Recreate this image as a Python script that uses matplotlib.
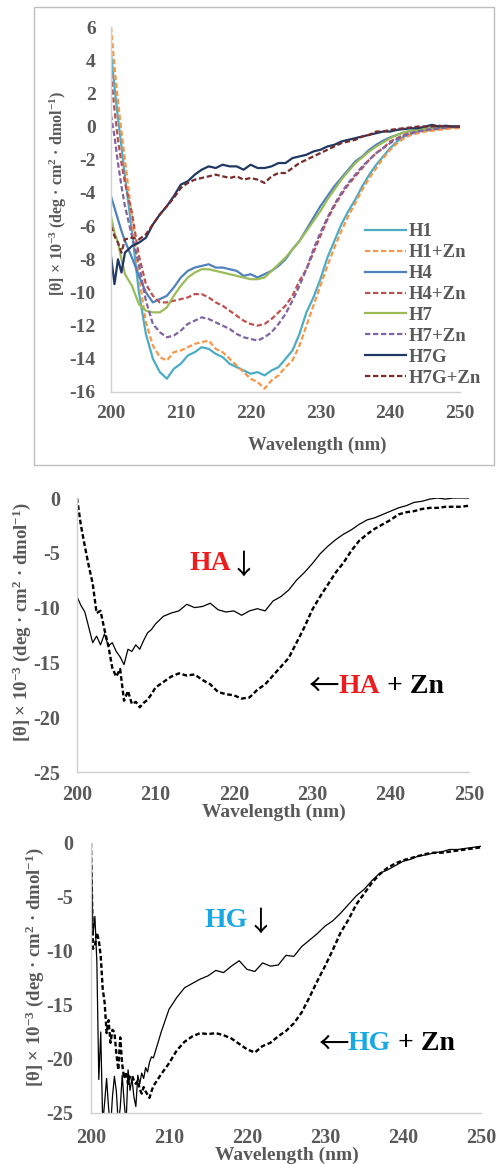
import numpy as np
import matplotlib
matplotlib.use("Agg")
import matplotlib.pyplot as plt
from matplotlib.patches import Rectangle

plt.rcParams['font.family'] = ['Liberation Serif', 'DejaVu Serif']
plt.rcParams['axes.unicode_minus'] = False
plt.rcParams['mathtext.fontset'] = 'custom'
plt.rcParams['mathtext.rm'] = 'Liberation Serif:bold'
plt.rcParams['mathtext.bf'] = 'Liberation Serif:bold'
plt.rcParams['mathtext.it'] = 'Liberation Serif:bold'

# ---------------- data: top panel ----------------
wl_top = [200, 200.5, 201, 201.5, 202] + list(range(203, 251))
series_top = ['H1', 'H1+Zn', 'H4', 'H4+Zn', 'H7', 'H7+Zn', 'H7G', 'H7G+Zn']

H1 = [4.4, 2.4, 0.5, -1.2, -3.0, -6.3, -10.0, -12.5, -14.0, -14.8, -15.2, -14.6, -14.3, -13.8,
      -13.6, -13.3, -13.4, -13.7, -13.9, -14.3, -14.5, -14.7, -14.9, -14.8, -15.0, -14.7, -14.5,
      -14.0, -13.5, -12.5, -11.2, -10.3, -9.2, -7.9, -6.9, -5.9, -5.1, -4.4, -3.6, -2.9, -2.3,
      -1.8, -1.3, -0.9, -0.6, -0.45, -0.3, -0.25, -0.2, -0.15, -0.1, -0.05, 0.0]
H1_Zn = [6.0, 3.6, 1.5, -0.3, -2.0, -5.5, -9.0, -11.8, -13.2, -13.9, -14.1, -13.6, -13.5, -13.3,
         -13.1, -13.0, -12.9, -13.4, -13.6, -14.0, -14.4, -14.8, -15.2, -15.4, -15.8, -15.3, -15.0,
         -14.5, -14.1, -13.2, -12.0, -10.8, -9.6, -8.4, -7.3, -6.3, -5.4, -4.6, -3.8, -3.1, -2.5,
         -1.9, -1.4, -1.0, -0.7, -0.5, -0.4, -0.3, -0.25, -0.2, -0.15, -0.1, -0.1]
H4 = [-4.2, -4.9, -5.6, -6.3, -6.9, -7.9, -9.0, -10.0, -10.6, -10.4, -10.2, -9.7, -9.1, -8.7,
      -8.5, -8.4, -8.3, -8.5, -8.5, -8.6, -8.7, -9.0, -8.9, -9.1, -8.9, -8.7, -8.4, -8.0, -7.4,
      -6.9, -6.2, -5.5, -4.8, -4.2, -3.6, -3.1, -2.6, -2.1, -1.8, -1.4, -1.1, -0.85, -0.65,
      -0.5, -0.35, -0.25, -0.2, -0.15, -0.1, -0.05, 0.0, 0.0, 0.0]
H4_Zn = [3.2, 1.0, -0.8, -2.2, -3.4, -5.2, -7.8, -9.5, -10.2, -10.6, -10.6, -10.5, -10.4, -10.3,
         -10.1, -10.1, -10.3, -10.6, -10.8, -11.1, -11.4, -11.7, -11.9, -12.0, -11.9, -11.6,
         -11.2, -10.8, -10.2, -9.3, -8.6, -7.6, -6.6, -5.6, -4.8, -4.1, -3.5, -3.0, -2.5, -2.0,
         -1.6, -1.3, -0.9, -0.7, -0.5, -0.35, -0.25, -0.2, -0.15, -0.1, -0.05, 0.0, 0.0]
H7 = [-5.4, -6.4, -7.0, -8.0, -8.9, -9.6, -10.7, -11.1, -11.2, -11.2, -10.9, -10.2, -9.6, -9.1,
      -8.8, -8.6, -8.6, -8.7, -8.8, -8.9, -9.0, -9.1, -9.2, -9.2, -9.1, -8.7, -8.3, -7.9, -7.4,
      -6.9, -6.3, -5.7, -5.1, -4.4, -3.8, -3.2, -2.7, -2.2, -1.85, -1.5, -1.2, -0.95, -0.7,
      -0.5, -0.35, -0.25, -0.2, -0.15, -0.1, -0.05, 0.0, 0.0, 0.0]
H7_Zn = [0.7, -0.6, -2.2, -3.6, -4.8, -6.6, -8.3, -10.5, -11.9, -12.4, -12.7, -12.6, -12.3,
         -11.9, -11.7, -11.5, -11.6, -11.8, -12.0, -12.2, -12.5, -12.7, -12.8, -12.9, -12.7,
         -12.4, -11.9, -11.3, -10.5, -9.6, -8.6, -7.4, -6.4, -5.5, -4.7, -4.0, -3.4, -2.9, -2.4,
         -2.0, -1.6, -1.3, -1.0, -0.75, -0.55, -0.4, -0.3, -0.2, -0.15, -0.1, -0.05, 0.0, 0.0]
H7G = [-7.8, -9.5, -8.0, -8.8, -7.6, -7.2, -7.0, -6.7, -5.9, -5.3, -4.8, -4.2, -3.5, -3.3, -2.9,
       -2.6, -2.4, -2.5, -2.3, -2.4, -2.4, -2.6, -2.3, -2.5, -2.5, -2.4, -2.2, -2.2, -1.9, -1.8,
       -1.7, -1.5, -1.4, -1.2, -1.1, -0.9, -0.8, -0.7, -0.6, -0.5, -0.4, -0.3, -0.3, -0.2,
       -0.15, -0.1, -0.1, 0.0, 0.1, 0.0, 0.05, 0.0, 0.0]
H7G_Zn = [-6.0, -6.6, -7.0, -7.6, -6.8, -6.7, -6.8, -6.5, -5.9, -5.3, -4.8, -4.3, -3.7, -3.4,
          -3.2, -3.1, -3.0, -2.9, -3.0, -3.1, -3.0, -3.2, -3.1, -3.2, -3.4, -3.0, -2.8, -2.8,
          -2.5, -2.2, -2.0, -1.8, -1.6, -1.4, -1.2, -1.0, -0.9, -0.8, -0.6, -0.5, -0.3, -0.3,
          -0.2, -0.15, -0.1, -0.05, 0.0, 0.0, 0.0, 0.05, 0.0, 0.0, 0.0]

# ---------------- data: middle panel (HA) ----------------
wl_mid = list(np.arange(200, 210, 0.5)) + list(range(210, 251))
HA = [-9.0, -9.8, -10.4, -11.8, -13.2, -12.6, -13.4, -12.4, -13.5, -13.2, -14.0, -14.5, -15.2,
      -13.8, -14.0, -13.4, -13.8, -13.0, -12.3, -12.0,
      -11.5, -10.8, -10.5, -10.3, -9.7, -10.0, -9.9, -9.6, -10.2, -10.4, -10.3, -10.7, -10.3,
      -10.1, -10.3, -9.4, -9.0, -8.4, -7.5, -6.8, -6.0, -5.1, -4.4, -3.8, -3.3, -2.9, -2.4,
      -2.0, -1.8, -1.5, -1.2, -0.9, -0.7, -0.4, -0.3, -0.1, 0.0, -0.1, 0.0, 0.0, 0.0]
HA_Zn = [0.0, -2.5, -4.4, -6.2, -7.8, -10.5, -10.3, -12.0, -13.5, -15.5, -16.3, -15.6, -18.5,
         -17.6, -18.8, -18.6, -19.1, -18.7, -18.4, -17.9,
         -17.3, -16.8, -16.3, -16.0, -16.2, -16.1, -16.6, -17.0, -17.7, -17.9, -18.0, -18.3,
         -18.2, -17.5, -17.0, -16.2, -15.4, -14.6, -13.2, -11.8, -10.2, -9.0, -7.9, -6.8, -5.9,
         -4.8, -3.9, -3.3, -2.8, -2.4, -2.0, -1.5, -1.3, -1.2, -1.0, -0.9, -0.9, -0.8, -0.8,
         -0.8, -0.7]

# ---------------- data: bottom panel (HG) ----------------
wl_bot = list(np.arange(200, 208.01, 0.25)) + list(range(209, 251))
HG = [0.0, -8.5, -6.8, -11.0, -21.9, -17.5, -26.0, -24.0, -21.8, -24.5, -26.5, -23.5, -21.6,
      -23.0, -26.0, -24.5, -21.5, -24.0, -26.0, -21.0, -22.9, -21.8, -23.5, -24.4, -21.5,
      -22.3, -21.3, -21.8, -20.8, -21.2, -20.3, -19.8, -19.9,
      -17.5, -15.4, -14.3, -13.4, -13.0, -12.6, -12.3, -11.8, -12.0, -11.4, -10.9, -11.7,
      -11.9, -11.1, -11.4, -11.3, -10.4, -10.5, -9.6, -9.0, -8.4, -7.7, -7.2, -6.5, -5.7,
      -4.9, -4.3, -3.5, -2.8, -2.5, -2.1, -1.7, -1.5, -1.2, -1.1, -0.9, -0.8, -0.6, -0.6,
      -0.5, -0.4, -0.3]
HG_Zn = [0.0, -9.8, -9.5, -8.3, -9.0, -10.5, -13.5, -14.8, -17.6, -16.4, -18.5, -17.3, -17.5,
         -19.5, -21.0, -18.0, -20.5, -21.8, -21.2, -22.3, -21.6, -21.5, -22.0, -22.3, -22.0,
         -22.8, -23.2, -22.6, -23.0, -23.3, -23.6, -23.0, -22.5,
         -21.4, -20.4, -19.2, -18.4, -17.9, -17.6, -17.7, -17.6, -17.8, -18.1, -18.6, -19.1,
         -19.4, -18.8, -18.5, -17.9, -17.4, -16.7, -15.7, -14.3, -12.8, -11.4, -9.9, -8.3,
         -7.1, -5.7, -4.7, -3.7, -2.9, -2.3, -1.9, -1.6, -1.4, -1.2, -1.0, -0.9, -0.9, -0.8,
         -0.7, -0.6, -0.5, -0.4]

xticks = [200, 210, 220, 230, 240, 250]
yticks_top = list(range(-16, 7, 2))
yticks_low = [-25, -20, -15, -10, -5, 0]

# ---------------- styling ----------------
W, H = 496, 1164
fig = plt.figure(figsize=(W / 100, H / 100), dpi=100)
GRAY = '#595959'
SPINE = '#D0D0D0'


def fx(px):
    return px / W


def fy(py):
    return 1 - py / H


def make_axes(x0, x1, y_top, y_bot):
    return fig.add_axes([fx(x0), fy(y_bot), fx(x1) - fx(x0), fy(y_top) - fy(y_bot)])


def style(ax, xpad, ypad, size):
    for s in ['top', 'right']:
        ax.spines[s].set_visible(False)
    for s in ['left', 'bottom']:
        ax.spines[s].set_color(SPINE)
        ax.spines[s].set_linewidth(1.0)
    ax.tick_params(axis='both', length=0, labelsize=size, labelcolor=GRAY)
    ax.tick_params(axis='x', pad=xpad)
    ax.tick_params(axis='y', pad=ypad)
    for lab in ax.get_xticklabels() + ax.get_yticklabels():
        lab.set_fontweight('bold')


ylabel_txt = r'[θ] × 10$^{-3}$ (deg · cm$^{2}$ · dmol$^{-1}$)'

# ---------------- top panel ----------------
fig.patches.append(Rectangle((fx(34), fy(465)), fx(494) - fx(34), fy(7) - fy(465),
                             transform=fig.transFigure, fill=False,
                             edgecolor='#BFBFBF', linewidth=1.0))
ax1 = make_axes(111, 460, 27, 392)
colors = ['#4BACC6', '#F79646', '#4F81BD', '#C0504D', '#9BBB59', '#8064A2', '#1F3864', '#772C2A']
data_top = [H1, H1_Zn, H4, H4_Zn, H7, H7_Zn, H7G, H7G_Zn]
for name, vals, c in zip(series_top, data_top, colors):
    if name.endswith('Zn'):
        ax1.plot(wl_top, vals, color=c, lw=1.6, dashes=(2.4, 1.2), label=name)
    else:
        ax1.plot(wl_top, vals, color=c, lw=1.6, label=name)
ax1.set_xlim(200, 250)
ax1.set_ylim(-16, 6)
ax1.set_xticks(xticks)
ax1.set_yticks(yticks_top)
style(ax1, 9, 11, 14)
leg = ax1.legend(loc='upper left', bbox_to_anchor=(0.728, 0.462), frameon=False,
                 borderpad=0, borderaxespad=0, handlelength=2.2, handletextpad=0.15,
                 labelspacing=0.2,
                 prop=dict(family='Liberation Serif', weight='bold', size=13.5),
                 labelcolor=GRAY)
fig.text(fx(58), fy(193), ylabel_txt, rotation=90, ha='center', va='center',
         fontsize=11.5, fontweight='bold', color=GRAY)
fig.text(fx(317), fy(445), 'Wavelength (nm)', ha='center', va='center',
         fontsize=13.5, fontweight='bold', color=GRAY)

# ---------------- middle panel ----------------
ax2 = make_axes(77, 469, 498, 772)
ax2.plot(wl_mid, HA, color='black', lw=0.9)
ax2.plot(wl_mid, HA_Zn, color='black', lw=1.7, dashes=(2.0, 1.1))
ax2.set_xlim(200, 250)
ax2.set_ylim(-25, 0)
ax2.set_xticks(xticks)
ax2.set_yticks(yticks_low)
style(ax2, 9, 12, 14.5)
fig.text(fx(22), fy(622), ylabel_txt, rotation=90, ha='center', va='center',
         fontsize=13.5, fontweight='bold', color=GRAY)
fig.text(fx(274), fy(812), 'Wavelength (nm)', ha='center', va='center',
         fontsize=14, fontweight='bold', color=GRAY)

RED = '#EE1C1C'
BLUE = '#18A8E2'
ANN = 20
ARROW_FONT = ['Noto Sans CJK JP', 'DejaVu Sans']


def label_down(ax, x, y, name, color):
    t = ax.text(x, y, name, color=color, fontsize=ANN, fontweight='bold', ha='left',
                va='baseline')
    ax.annotate('↓', xy=(0.96, 0.42), xycoords=t, ha='left', va='center', fontsize=20,
                family=ARROW_FONT, color='black')


def label_left(ax, x, y, name, color):
    b = ax.text(x, y, name, color=color, fontsize=ANN, fontweight='bold', ha='left',
                va='baseline')
    ax.annotate('←', xy=(0.04, 0.45), xycoords=b, ha='right', va='center', fontsize=22,
                family=ARROW_FONT, color='black')
    ax.annotate(' + Zn', xy=(1, 0), xycoords=b, ha='left', va='bottom', fontsize=ANN,
                fontweight='bold', color='black')


label_down(ax2, 214.4, -6.6, 'HA', RED)
label_left(ax2, 233.3, -17.8, 'HA', RED)

# ---------------- bottom panel ----------------
ax3 = make_axes(91, 481, 843, 1113)
ax3.plot(wl_bot, HG, color='black', lw=0.9)
ax3.plot(wl_bot, HG_Zn, color='black', lw=1.7, dashes=(2.0, 1.1))
ax3.set_xlim(200, 250)
ax3.set_ylim(-25, 0)
ax3.set_xticks(xticks)
ax3.set_yticks(yticks_low)
style(ax3, 11, 13, 14.5)
fig.text(fx(35), fy(967), ylabel_txt, rotation=90, ha='center', va='center',
         fontsize=13.5, fontweight='bold', color=GRAY)
fig.text(fx(287), fy(1155), 'Wavelength (nm)', ha='center', va='center',
         fontsize=14, fontweight='bold', color=GRAY)

label_down(ax3, 214.6, -7.8, 'HG', BLUE)
label_left(ax3, 232.9, -19.2, 'HG', BLUE)

fig.savefig('out.png', dpi=100)
